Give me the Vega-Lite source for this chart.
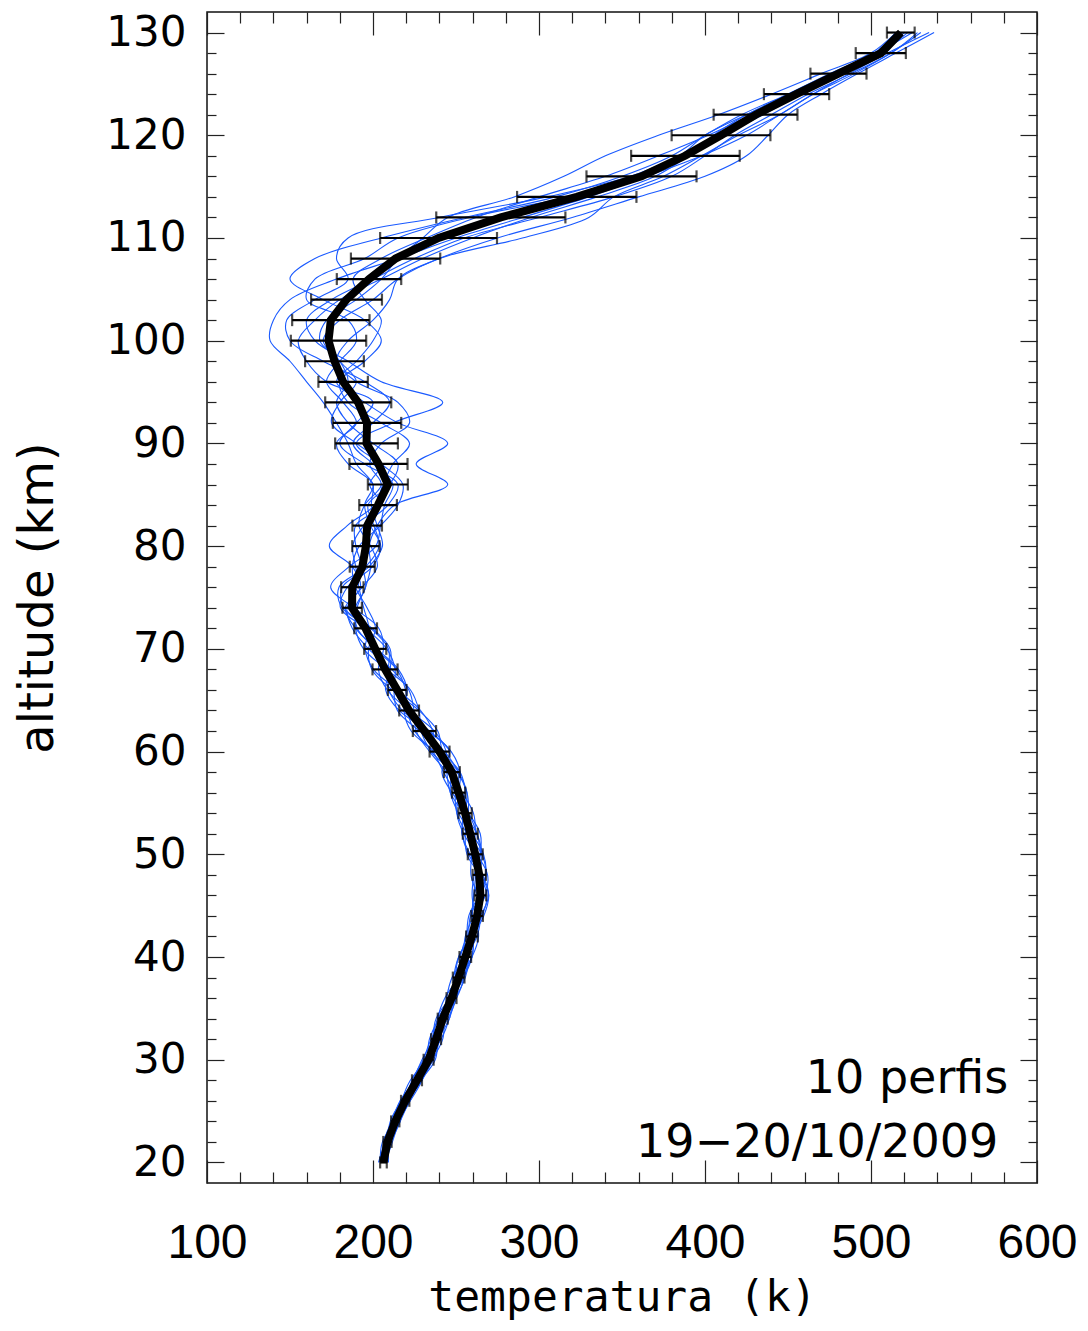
{
"$schema": "https://vega.github.io/schema/vega-lite/v6.json",
"width": 830, "height": 1171,
"autosize": {"type": "none"},
"padding": {"left": 207, "top": 12, "right": 51, "bottom": 148},
"background": "white",
"config": {
  "view": {"stroke": "#111", "strokeWidth": 1.5},
  "axis": {"domain": false, "grid": false, "tickColor": "#222", "tickWidth": 1.2, "labelColor": "#000", "titleColor": "#000", "titleFontWeight": "normal"}
},
"datasets": {
"mean": [
{"a":20,"m":206.3,"lo":204.3,"hi":208.3},{"a":22,"m":208.7,"lo":206.2,"hi":211.2},{"a":24,"m":213.4,"lo":210.9,"hi":215.9},{"a":26,"m":219.4,"lo":216.9,"hi":221.9},{"a":28,"m":226.5,"lo":223.5,"hi":229.5},{"a":30,"m":233.5,"lo":230.5,"hi":236.5},{"a":32,"m":238,"lo":235,"hi":241},{"a":34,"m":242,"lo":239,"hi":245},{"a":36,"m":247.3,"lo":244.3,"hi":250.3},{"a":38,"m":251.6,"lo":248.1,"hi":255.1},{"a":40,"m":255.6,"lo":252.1,"hi":259.1},{"a":42,"m":259.6,"lo":256.1,"hi":263.1},{"a":44,"m":262.7,"lo":259.2,"hi":266.2},{"a":46,"m":264.7,"lo":261.2,"hi":268.2},{"a":48,"m":264,"lo":260,"hi":268},{"a":50,"m":261.6,"lo":257.1,"hi":266.1},{"a":52,"m":258.6,"lo":254.1,"hi":263.1},{"a":54,"m":255.5,"lo":251.5,"hi":259.5},{"a":56,"m":251.6,"lo":247.6,"hi":255.6},{"a":58,"m":247.5,"lo":242.7,"hi":252.3},{"a":60,"m":240.1,"lo":234.1,"hi":246.1},{"a":62,"m":231,"lo":224,"hi":238},{"a":64,"m":221.7,"lo":215.8,"hi":227.7},{"a":66,"m":214.6,"lo":209,"hi":220.2},{"a":68,"m":207.3,"lo":199.7,"hi":214.8},{"a":70,"m":201.3,"lo":194.7,"hi":208},{"a":72,"m":195.5,"lo":188.7,"hi":202.4},{"a":74,"m":187.4,"lo":181.6,"hi":193.3},{"a":76,"m":187.5,"lo":180.8,"hi":194.3},{"a":78,"m":193.6,"lo":186,"hi":201.1},{"a":80,"m":195.7,"lo":187.5,"hi":203.9},{"a":82,"m":196.5,"lo":187.6,"hi":205.4},{"a":84,"m":203,"lo":191.7,"hi":214.4},{"a":86,"m":209,"lo":196.9,"hi":221},{"a":88,"m":203.3,"lo":185.8,"hi":220.8},{"a":90,"m":196.1,"lo":177.2,"hi":215},{"a":92,"m":196.4,"lo":175.8,"hi":217},{"a":94,"m":191,"lo":171.2,"hi":211},{"a":96,"m":182,"lo":167.1,"hi":196.9},{"a":98,"m":176.8,"lo":159.1,"hi":194.5},{"a":100,"m":173.2,"lo":150.5,"hi":195.9},{"a":102,"m":174.6,"lo":151.3,"hi":197.9},{"a":104,"m":184,"lo":162.7,"hi":205.4},{"a":106,"m":197.6,"lo":178.2,"hi":217},{"a":108,"m":213.6,"lo":186.7,"hi":240.5},{"a":110,"m":239.5,"lo":204.3,"hi":274.7},{"a":112,"m":277,"lo":238.1,"hi":315.9},{"a":114,"m":322.7,"lo":286.8,"hi":358.7},{"a":116,"m":361.8,"lo":328.6,"hi":394.9},{"a":118,"m":388,"lo":355.5,"hi":420.9},{"a":120,"m":409.7,"lo":379.9,"hi":439.4},{"a":122,"m":430.5,"lo":405.2,"hi":455.7},{"a":124,"m":455,"lo":435.5,"hi":474.8},{"a":126,"m":480.4,"lo":463.5,"hi":497.3},{"a":128,"m":506,"lo":490.8,"hi":521},{"a":130,"m":518,"lo":509.6,"hi":526.3}
],
"profiles": [
{"p":1,"a":20,"t":207.3},{"p":1,"a":22,"t":211.7},{"p":1,"a":24,"t":215.4},{"p":1,"a":26,"t":217.4},{"p":1,"a":28,"t":222.5},{"p":1,"a":30,"t":232.5},{"p":1,"a":32,"t":241},{"p":1,"a":34,"t":246},{"p":1,"a":36,"t":248.3},{"p":1,"a":38,"t":248.6},{"p":1,"a":40,"t":251.6},{"p":1,"a":42,"t":259.6},{"p":1,"a":44,"t":266.7},{"p":1,"a":46,"t":269.7},{"p":1,"a":48,"t":265},{"p":1,"a":50,"t":257.6},{"p":1,"a":52,"t":253.6},{"p":1,"a":54,"t":254.5},{"p":1,"a":56,"t":255.6},{"p":1,"a":58,"t":252.5},{"p":1,"a":60,"t":242.1},{"p":1,"a":62,"t":239},{"p":1,"a":64,"t":227.7},{"p":1,"a":66,"t":211.6},{"p":1,"a":68,"t":199.3},{"p":1,"a":70,"t":197.3},{"p":1,"a":72,"t":201.5},{"p":1,"a":74,"t":196.4},{"p":1,"a":76,"t":189.5},{"p":1,"a":78,"t":187.6},{"p":1,"a":80,"t":191.7},{"p":1,"a":82,"t":204.5},{"p":1,"a":84,"t":215},{"p":1,"a":86,"t":218},{"p":1,"a":88,"t":205},{"p":1,"a":90,"t":190},{"p":1,"a":92,"t":212},{"p":1,"a":94,"t":242},{"p":1,"a":96,"t":205},{"p":1,"a":98,"t":185},{"p":1,"a":100,"t":165},{"p":1,"a":102,"t":160},{"p":1,"a":104,"t":175},{"p":1,"a":106,"t":200},{"p":1,"a":108,"t":225},{"p":1,"a":110,"t":255},{"p":1,"a":112,"t":300},{"p":1,"a":114,"t":345},{"p":1,"a":116,"t":380},{"p":1,"a":118,"t":400},{"p":1,"a":120,"t":418},{"p":1,"a":122,"t":440},{"p":1,"a":124,"t":462},{"p":1,"a":126,"t":488},{"p":1,"a":128,"t":512},{"p":1,"a":130,"t":528},
{"p":2,"a":20,"t":204.3},{"p":2,"a":22,"t":205.7},{"p":2,"a":24,"t":213.4},{"p":2,"a":26,"t":222.4},{"p":2,"a":28,"t":229.5},{"p":2,"a":30,"t":232.5},{"p":2,"a":32,"t":234},{"p":2,"a":34,"t":240},{"p":2,"a":36,"t":249.3},{"p":2,"a":38,"t":255.6},{"p":2,"a":40,"t":257.6},{"p":2,"a":42,"t":256.6},{"p":2,"a":44,"t":257.7},{"p":2,"a":46,"t":263.7},{"p":2,"a":48,"t":268},{"p":2,"a":50,"t":266.6},{"p":2,"a":52,"t":259.6},{"p":2,"a":54,"t":251.5},{"p":2,"a":56,"t":246.6},{"p":2,"a":58,"t":246.5},{"p":2,"a":60,"t":235.1},{"p":2,"a":62,"t":229},{"p":2,"a":64,"t":227.7},{"p":2,"a":66,"t":222.6},{"p":2,"a":68,"t":208.3},{"p":2,"a":70,"t":194.3},{"p":2,"a":72,"t":189.5},{"p":2,"a":74,"t":190.4},{"p":2,"a":76,"t":195.5},{"p":2,"a":78,"t":198.6},{"p":2,"a":80,"t":197.7},{"p":2,"a":82,"t":202.5},{"p":2,"a":84,"t":213},{"p":2,"a":86,"t":245},{"p":2,"a":88,"t":226},{"p":2,"a":90,"t":245},{"p":2,"a":92,"t":215},{"p":2,"a":94,"t":195},{"p":2,"a":96,"t":178},{"p":2,"a":98,"t":190},{"p":2,"a":100,"t":200},{"p":2,"a":102,"t":205},{"p":2,"a":104,"t":195},{"p":2,"a":106,"t":188},{"p":2,"a":108,"t":205},{"p":2,"a":110,"t":232},{"p":2,"a":112,"t":262},{"p":2,"a":114,"t":300},{"p":2,"a":116,"t":340},{"p":2,"a":118,"t":372},{"p":2,"a":120,"t":402},{"p":2,"a":122,"t":428},{"p":2,"a":124,"t":455},{"p":2,"a":126,"t":482},{"p":2,"a":128,"t":505},{"p":2,"a":130,"t":520},
{"p":3,"a":20,"t":208.3},{"p":3,"a":22,"t":208.7},{"p":3,"a":24,"t":210.4},{"p":3,"a":26,"t":217.4},{"p":3,"a":28,"t":228.5},{"p":3,"a":30,"t":237.5},{"p":3,"a":32,"t":239},{"p":3,"a":34,"t":239},{"p":3,"a":36,"t":243.3},{"p":3,"a":38,"t":251.6},{"p":3,"a":40,"t":259.6},{"p":3,"a":42,"t":263.6},{"p":3,"a":44,"t":261.7},{"p":3,"a":46,"t":259.7},{"p":3,"a":48,"t":261},{"p":3,"a":50,"t":264.6},{"p":3,"a":52,"t":264.6},{"p":3,"a":54,"t":257.5},{"p":3,"a":56,"t":247.6},{"p":3,"a":58,"t":241.5},{"p":3,"a":60,"t":246.1},{"p":3,"a":62,"t":233},{"p":3,"a":64,"t":215.7},{"p":3,"a":66,"t":207.6},{"p":3,"a":68,"t":210.3},{"p":3,"a":70,"t":210.3},{"p":3,"a":72,"t":199.5},{"p":3,"a":74,"t":182.4},{"p":3,"a":76,"t":181.5},{"p":3,"a":78,"t":197.6},{"p":3,"a":80,"t":205.7},{"p":3,"a":82,"t":202.5},{"p":3,"a":84,"t":199},{"p":3,"a":86,"t":200},{"p":3,"a":88,"t":190},{"p":3,"a":90,"t":185},{"p":3,"a":92,"t":178},{"p":3,"a":94,"t":170},{"p":3,"a":96,"t":160},{"p":3,"a":98,"t":150},{"p":3,"a":100,"t":138},{"p":3,"a":102,"t":140},{"p":3,"a":104,"t":150},{"p":3,"a":106,"t":178},{"p":3,"a":108,"t":215},{"p":3,"a":110,"t":250},{"p":3,"a":112,"t":290},{"p":3,"a":114,"t":330},{"p":3,"a":116,"t":365},{"p":3,"a":118,"t":398},{"p":3,"a":120,"t":425},{"p":3,"a":122,"t":445},{"p":3,"a":124,"t":465},{"p":3,"a":126,"t":487},{"p":3,"a":128,"t":510},{"p":3,"a":130,"t":535},
{"p":4,"a":20,"t":205.3},{"p":4,"a":22,"t":210.7},{"p":4,"a":24,"t":216.4},{"p":4,"a":26,"t":219.4},{"p":4,"a":28,"t":223.5},{"p":4,"a":30,"t":230.5},{"p":4,"a":32,"t":239},{"p":4,"a":34,"t":246},{"p":4,"a":36,"t":249.3},{"p":4,"a":38,"t":249.6},{"p":4,"a":40,"t":251.6},{"p":4,"a":42,"t":258.6},{"p":4,"a":44,"t":265.7},{"p":4,"a":46,"t":268.7},{"p":4,"a":48,"t":264},{"p":4,"a":50,"t":256.6},{"p":4,"a":52,"t":255.6},{"p":4,"a":54,"t":257.5},{"p":4,"a":56,"t":256.6},{"p":4,"a":58,"t":250.5},{"p":4,"a":60,"t":237.1},{"p":4,"a":62,"t":223},{"p":4,"a":64,"t":218.7},{"p":4,"a":66,"t":220.6},{"p":4,"a":68,"t":215.3},{"p":4,"a":70,"t":202.3},{"p":4,"a":72,"t":189.5},{"p":4,"a":74,"t":183.4},{"p":4,"a":76,"t":192.5},{"p":4,"a":78,"t":187.6},{"p":4,"a":80,"t":173.7},{"p":4,"a":82,"t":184.5},{"p":4,"a":84,"t":201},{"p":4,"a":86,"t":206},{"p":4,"a":88,"t":212},{"p":4,"a":90,"t":222},{"p":4,"a":92,"t":205},{"p":4,"a":94,"t":185},{"p":4,"a":96,"t":180},{"p":4,"a":98,"t":195},{"p":4,"a":100,"t":205},{"p":4,"a":102,"t":195},{"p":4,"a":104,"t":170},{"p":4,"a":106,"t":150},{"p":4,"a":108,"t":165},{"p":4,"a":110,"t":205},{"p":4,"a":112,"t":255},{"p":4,"a":114,"t":310},{"p":4,"a":116,"t":350},{"p":4,"a":118,"t":380},{"p":4,"a":120,"t":400},{"p":4,"a":122,"t":422},{"p":4,"a":124,"t":450},{"p":4,"a":126,"t":478},{"p":4,"a":128,"t":502},{"p":4,"a":130,"t":515},
{"p":5,"a":20,"t":206.3},{"p":5,"a":22,"t":206.7},{"p":5,"a":24,"t":211.4},{"p":5,"a":26,"t":220.4},{"p":5,"a":28,"t":229.5},{"p":5,"a":30,"t":235.5},{"p":5,"a":32,"t":236},{"p":5,"a":34,"t":238},{"p":5,"a":36,"t":246.3},{"p":5,"a":38,"t":254.6},{"p":5,"a":40,"t":259.6},{"p":5,"a":42,"t":260.6},{"p":5,"a":44,"t":259.7},{"p":5,"a":46,"t":260.7},{"p":5,"a":48,"t":264},{"p":5,"a":50,"t":265.6},{"p":5,"a":52,"t":262.6},{"p":5,"a":54,"t":254.5},{"p":5,"a":56,"t":246.6},{"p":5,"a":58,"t":244.5},{"p":5,"a":60,"t":244.1},{"p":5,"a":62,"t":237},{"p":5,"a":64,"t":221.7},{"p":5,"a":66,"t":208.6},{"p":5,"a":68,"t":203.3},{"p":5,"a":70,"t":206.3},{"p":5,"a":72,"t":203.5},{"p":5,"a":74,"t":188.4},{"p":5,"a":76,"t":174.5},{"p":5,"a":78,"t":185.6},{"p":5,"a":80,"t":201.7},{"p":5,"a":82,"t":204.5},{"p":5,"a":84,"t":207},{"p":5,"a":86,"t":212},{"p":5,"a":88,"t":200},{"p":5,"a":90,"t":188},{"p":5,"a":92,"t":200},{"p":5,"a":94,"t":210},{"p":5,"a":96,"t":195},{"p":5,"a":98,"t":170},{"p":5,"a":100,"t":150},{"p":5,"a":102,"t":148},{"p":5,"a":104,"t":165},{"p":5,"a":106,"t":185},{"p":5,"a":108,"t":178},{"p":5,"a":110,"t":185},{"p":5,"a":112,"t":240},{"p":5,"a":114,"t":305},{"p":5,"a":116,"t":355},{"p":5,"a":118,"t":385},{"p":5,"a":120,"t":410},{"p":5,"a":122,"t":435},{"p":5,"a":124,"t":458},{"p":5,"a":126,"t":482},{"p":5,"a":128,"t":506},{"p":5,"a":130,"t":522},
{"p":6,"a":20,"t":209.3},{"p":6,"a":22,"t":209.7},{"p":6,"a":24,"t":212.4},{"p":6,"a":26,"t":216.4},{"p":6,"a":28,"t":225.5},{"p":6,"a":30,"t":235.5},{"p":6,"a":32,"t":242},{"p":6,"a":34,"t":243},{"p":6,"a":36,"t":244.3},{"p":6,"a":38,"t":247.6},{"p":6,"a":40,"t":255.6},{"p":6,"a":42,"t":262.6},{"p":6,"a":44,"t":264.7},{"p":6,"a":46,"t":262.7},{"p":6,"a":48,"t":259},{"p":6,"a":50,"t":259.6},{"p":6,"a":52,"t":261.6},{"p":6,"a":54,"t":260.5},{"p":6,"a":56,"t":253.6},{"p":6,"a":58,"t":244.5},{"p":6,"a":60,"t":234.1},{"p":6,"a":62,"t":226},{"p":6,"a":64,"t":224.7},{"p":6,"a":66,"t":221.6},{"p":6,"a":68,"t":211.3},{"p":6,"a":70,"t":197.3},{"p":6,"a":72,"t":187.5},{"p":6,"a":74,"t":184.4},{"p":6,"a":76,"t":193.5},{"p":6,"a":78,"t":202.6},{"p":6,"a":80,"t":198.7},{"p":6,"a":82,"t":191.5},{"p":6,"a":84,"t":195},{"p":6,"a":86,"t":205},{"p":6,"a":88,"t":198},{"p":6,"a":90,"t":205},{"p":6,"a":92,"t":222},{"p":6,"a":94,"t":215},{"p":6,"a":96,"t":190},{"p":6,"a":98,"t":178},{"p":6,"a":100,"t":185},{"p":6,"a":102,"t":200},{"p":6,"a":104,"t":210},{"p":6,"a":106,"t":215},{"p":6,"a":108,"t":240},{"p":6,"a":110,"t":275},{"p":6,"a":112,"t":320},{"p":6,"a":114,"t":360},{"p":6,"a":116,"t":400},{"p":6,"a":118,"t":425},{"p":6,"a":120,"t":438},{"p":6,"a":122,"t":450},{"p":6,"a":124,"t":470},{"p":6,"a":126,"t":492},{"p":6,"a":128,"t":515},{"p":6,"a":130,"t":538},
{"p":7,"a":20,"t":203.3},{"p":7,"a":22,"t":207.7},{"p":7,"a":24,"t":215.4},{"p":7,"a":26,"t":222.4},{"p":7,"a":28,"t":227.5},{"p":7,"a":30,"t":230.5},{"p":7,"a":32,"t":235},{"p":7,"a":34,"t":242},{"p":7,"a":36,"t":250.3},{"p":7,"a":38,"t":254.6},{"p":7,"a":40,"t":254.6},{"p":7,"a":42,"t":255.6},{"p":7,"a":44,"t":260.7},{"p":7,"a":46,"t":267.7},{"p":7,"a":48,"t":269},{"p":7,"a":50,"t":262.6},{"p":7,"a":52,"t":254.6},{"p":7,"a":54,"t":250.5},{"p":7,"a":56,"t":251.6},{"p":7,"a":58,"t":252.5},{"p":7,"a":60,"t":247.1},{"p":7,"a":62,"t":234},{"p":7,"a":64,"t":217.7},{"p":7,"a":66,"t":209.6},{"p":7,"a":68,"t":209.3},{"p":7,"a":70,"t":209.3},{"p":7,"a":72,"t":198.5},{"p":7,"a":74,"t":181.4},{"p":7,"a":76,"t":179.5},{"p":7,"a":78,"t":195.6},{"p":7,"a":80,"t":203.7},{"p":7,"a":82,"t":200.5},{"p":7,"a":84,"t":197},{"p":7,"a":86,"t":210},{"p":7,"a":88,"t":215},{"p":7,"a":90,"t":200},{"p":7,"a":92,"t":185},{"p":7,"a":94,"t":178},{"p":7,"a":96,"t":185},{"p":7,"a":98,"t":180},{"p":7,"a":100,"t":168},{"p":7,"a":102,"t":172},{"p":7,"a":104,"t":190},{"p":7,"a":106,"t":205},{"p":7,"a":108,"t":215},{"p":7,"a":110,"t":230},{"p":7,"a":112,"t":245},{"p":7,"a":114,"t":285},{"p":7,"a":116,"t":315},{"p":7,"a":118,"t":340},{"p":7,"a":120,"t":372},{"p":7,"a":122,"t":408},{"p":7,"a":124,"t":440},{"p":7,"a":126,"t":470},{"p":7,"a":128,"t":500},{"p":7,"a":130,"t":515},
{"p":8,"a":20,"t":207.3},{"p":8,"a":22,"t":207.7},{"p":8,"a":24,"t":211.4},{"p":8,"a":26,"t":220.4},{"p":8,"a":28,"t":229.5},{"p":8,"a":30,"t":234.5},{"p":8,"a":32,"t":236},{"p":8,"a":34,"t":239},{"p":8,"a":36,"t":247.3},{"p":8,"a":38,"t":254.6},{"p":8,"a":40,"t":257.6},{"p":8,"a":42,"t":257.6},{"p":8,"a":44,"t":258.7},{"p":8,"a":46,"t":264.7},{"p":8,"a":48,"t":268},{"p":8,"a":50,"t":265.6},{"p":8,"a":52,"t":256.6},{"p":8,"a":54,"t":250.5},{"p":8,"a":56,"t":249.6},{"p":8,"a":58,"t":251.5},{"p":8,"a":60,"t":238.1},{"p":8,"a":62,"t":236},{"p":8,"a":64,"t":228.7},{"p":8,"a":66,"t":214.6},{"p":8,"a":68,"t":200.3},{"p":8,"a":70,"t":195.3},{"p":8,"a":72,"t":197.5},{"p":8,"a":74,"t":194.4},{"p":8,"a":76,"t":191.5},{"p":8,"a":78,"t":189.6},{"p":8,"a":80,"t":187.7},{"p":8,"a":82,"t":194.5},{"p":8,"a":84,"t":209},{"p":8,"a":86,"t":215},{"p":8,"a":88,"t":195},{"p":8,"a":90,"t":180},{"p":8,"a":92,"t":190},{"p":8,"a":94,"t":200},{"p":8,"a":96,"t":172},{"p":8,"a":98,"t":160},{"p":8,"a":100,"t":155},{"p":8,"a":102,"t":165},{"p":8,"a":104,"t":180},{"p":8,"a":106,"t":205},{"p":8,"a":108,"t":230},{"p":8,"a":110,"t":260},{"p":8,"a":112,"t":295},{"p":8,"a":114,"t":335},{"p":8,"a":116,"t":370},{"p":8,"a":118,"t":390},{"p":8,"a":120,"t":405},{"p":8,"a":122,"t":425},{"p":8,"a":124,"t":450},{"p":8,"a":126,"t":475},{"p":8,"a":128,"t":503},{"p":8,"a":130,"t":525},
{"p":9,"a":20,"t":205.3},{"p":9,"a":22,"t":209.7},{"p":9,"a":24,"t":216.4},{"p":9,"a":26,"t":221.4},{"p":9,"a":28,"t":224.5},{"p":9,"a":30,"t":229.5},{"p":9,"a":32,"t":237},{"p":9,"a":34,"t":245},{"p":9,"a":36,"t":250.3},{"p":9,"a":38,"t":251.6},{"p":9,"a":40,"t":252.6},{"p":9,"a":42,"t":256.6},{"p":9,"a":44,"t":264.7},{"p":9,"a":46,"t":269.7},{"p":9,"a":48,"t":266},{"p":9,"a":50,"t":258.6},{"p":9,"a":52,"t":253.6},{"p":9,"a":54,"t":255.5},{"p":9,"a":56,"t":256.6},{"p":9,"a":58,"t":251.5},{"p":9,"a":60,"t":243.1},{"p":9,"a":62,"t":228},{"p":9,"a":64,"t":214.7},{"p":9,"a":66,"t":212.6},{"p":9,"a":68,"t":213.3},{"p":9,"a":70,"t":208.3},{"p":9,"a":72,"t":195.5},{"p":9,"a":74,"t":180.4},{"p":9,"a":76,"t":184.5},{"p":9,"a":78,"t":199.6},{"p":9,"a":80,"t":204.7},{"p":9,"a":82,"t":198.5},{"p":9,"a":84,"t":195},{"p":9,"a":86,"t":200},{"p":9,"a":88,"t":185},{"p":9,"a":90,"t":178},{"p":9,"a":92,"t":190},{"p":9,"a":94,"t":182},{"p":9,"a":96,"t":172},{"p":9,"a":98,"t":180},{"p":9,"a":100,"t":190},{"p":9,"a":102,"t":185},{"p":9,"a":104,"t":160},{"p":9,"a":106,"t":165},{"p":9,"a":108,"t":195},{"p":9,"a":110,"t":215},{"p":9,"a":112,"t":258},{"p":9,"a":114,"t":318},{"p":9,"a":116,"t":362},{"p":9,"a":118,"t":385},{"p":9,"a":120,"t":400},{"p":9,"a":122,"t":425},{"p":9,"a":124,"t":452},{"p":9,"a":126,"t":478},{"p":9,"a":128,"t":505},{"p":9,"a":130,"t":518},
{"p":10,"a":20,"t":206.3},{"p":10,"a":22,"t":208.7},{"p":10,"a":24,"t":211.4},{"p":10,"a":26,"t":216.4},{"p":10,"a":28,"t":226.5},{"p":10,"a":30,"t":236.5},{"p":10,"a":32,"t":240},{"p":10,"a":34,"t":241},{"p":10,"a":36,"t":245.3},{"p":10,"a":38,"t":253.6},{"p":10,"a":40,"t":259.6},{"p":10,"a":42,"t":260.6},{"p":10,"a":44,"t":259.7},{"p":10,"a":46,"t":260.7},{"p":10,"a":48,"t":262},{"p":10,"a":50,"t":264.6},{"p":10,"a":52,"t":262.6},{"p":10,"a":54,"t":257.5},{"p":10,"a":56,"t":249.6},{"p":10,"a":58,"t":242.5},{"p":10,"a":60,"t":236.1},{"p":10,"a":62,"t":225},{"p":10,"a":64,"t":220.7},{"p":10,"a":66,"t":219.6},{"p":10,"a":68,"t":214.3},{"p":10,"a":70,"t":201.3},{"p":10,"a":72,"t":190.5},{"p":10,"a":74,"t":189.4},{"p":10,"a":76,"t":195.5},{"p":10,"a":78,"t":193.6},{"p":10,"a":80,"t":189.7},{"p":10,"a":82,"t":189.5},{"p":10,"a":84,"t":205},{"p":10,"a":86,"t":198},{"p":10,"a":88,"t":205},{"p":10,"a":90,"t":190},{"p":10,"a":92,"t":175},{"p":10,"a":94,"t":180},{"p":10,"a":96,"t":190},{"p":10,"a":98,"t":180},{"p":10,"a":100,"t":170},{"p":10,"a":102,"t":180},{"p":10,"a":104,"t":200},{"p":10,"a":106,"t":215},{"p":10,"a":108,"t":240},{"p":10,"a":110,"t":290},{"p":10,"a":112,"t":330},{"p":10,"a":114,"t":345},{"p":10,"a":116,"t":375},{"p":10,"a":118,"t":398},{"p":10,"a":120,"t":420},{"p":10,"a":122,"t":445},{"p":10,"a":124,"t":465},{"p":10,"a":126,"t":490},{"p":10,"a":128,"t":512},{"p":10,"a":130,"t":530}
]
},
"layer": [
{
  "data": {"name": "profiles"},
  "mark": {"type": "line", "interpolate": "catmull-rom", "stroke": "#1a5aff", "strokeWidth": 1.1},
  "encoding": {
    "x": {"field": "t", "type": "quantitative", "scale": {"domain": [100, 600], "nice": false, "zero": false},
      "axis": {"orient": "bottom", "values": [100,120,140,160,180,200,220,240,260,280,300,320,340,360,380,400,420,440,460,480,500,520,540,560,580,600],
        "tickSize": {"condition": {"test": "datum.value % 100 === 0", "value": -23}, "value": -11},
        "labelExpr": "datum.value % 100 === 0 ? datum.label : ''", "labelOverlap": false, "labelFlush": false,
        "labelFont": "Liberation Sans", "labelFontSize": 48, "labelPadding": 59,
        "title": "temperatura (k)", "titleFont": "DejaVu Sans Mono", "titleFontSize": 43, "titleY": 127, "titleBaseline": "alphabetic"}},
    "y": {"field": "a", "type": "quantitative", "scale": {"domain": [18, 132], "nice": false, "zero": false},
      "axis": {"orient": "left", "values": [20,22,24,26,28,30,32,34,36,38,40,42,44,46,48,50,52,54,56,58,60,62,64,66,68,70,72,74,76,78,80,82,84,86,88,90,92,94,96,98,100,102,104,106,108,110,112,114,116,118,120,122,124,126,128,130],
        "tickSize": {"condition": {"test": "datum.value % 10 === 0", "value": -17}, "value": -9},
        "labelExpr": "datum.value % 10 === 0 ? datum.label : ''", "labelOverlap": false, "labelFlush": false,
        "labelFont": "DejaVu Sans", "labelFontSize": 42, "labelPadding": 38, "labelBaseline": "middle",
        "title": "altitude (km)", "titleFont": "DejaVu Sans", "titleFontSize": 48, "titleX": -155, "titleY": 585.5, "titleAngle": 270, "titleBaseline": "alphabetic", "titleAlign": "center"}},
    "detail": {"field": "p", "type": "nominal"},
    "order": {"field": "a", "type": "quantitative"}
  }
},
{
  "data": {"name": "mean"},
  "mark": {"type": "rule", "color": "#000", "strokeWidth": 2.2},
  "encoding": {
    "x": {"field": "lo", "type": "quantitative", "scale": {"domain": [100, 600], "nice": false, "zero": false},
      "axis": {"orient": "top", "values": [100,120,140,160,180,200,220,240,260,280,300,320,340,360,380,400,420,440,460,480,500,520,540,560,580,600],
        "tickSize": {"condition": {"test": "datum.value % 100 === 0", "value": -23}, "value": -11},
        "labels": false, "title": null}},
    "x2": {"field": "hi"},
    "y": {"field": "a", "type": "quantitative", "scale": {"domain": [18, 132], "nice": false, "zero": false},
      "axis": {"orient": "right", "values": [20,22,24,26,28,30,32,34,36,38,40,42,44,46,48,50,52,54,56,58,60,62,64,66,68,70,72,74,76,78,80,82,84,86,88,90,92,94,96,98,100,102,104,106,108,110,112,114,116,118,120,122,124,126,128,130],
        "tickSize": {"condition": {"test": "datum.value % 10 === 0", "value": -17}, "value": -9},
        "labels": false, "title": null}}
  }
},
{
  "data": {"name": "mean"},
  "mark": {"type": "tick", "orient": "vertical", "size": 12, "thickness": 2.2, "color": "#000"},
  "encoding": {
    "x": {"field": "lo", "type": "quantitative", "scale": {"domain": [100, 600], "nice": false, "zero": false}, "axis": null},
    "y": {"field": "a", "type": "quantitative", "scale": {"domain": [18, 132], "nice": false, "zero": false}, "axis": null}
  }
},
{
  "data": {"name": "mean"},
  "mark": {"type": "tick", "orient": "vertical", "size": 12, "thickness": 2.2, "color": "#000"},
  "encoding": {
    "x": {"field": "hi", "type": "quantitative", "scale": {"domain": [100, 600], "nice": false, "zero": false}, "axis": null},
    "y": {"field": "a", "type": "quantitative", "scale": {"domain": [18, 132], "nice": false, "zero": false}, "axis": null}
  }
},
{
  "data": {"name": "mean"},
  "mark": {"type": "line", "color": "#000", "strokeWidth": 8},
  "encoding": {
    "x": {"field": "m", "type": "quantitative", "scale": {"domain": [100, 600], "nice": false, "zero": false}, "axis": null},
    "y": {"field": "a", "type": "quantitative", "scale": {"domain": [18, 132], "nice": false, "zero": false}, "axis": null},
    "order": {"field": "a", "type": "quantitative"}
  }
},
{
  "data": {"values": [{"label": "10 perfis"}]},
  "mark": {"type": "text", "align": "right", "baseline": "alphabetic", "font": "DejaVu Sans", "fontSize": 46, "color": "#000"},
  "encoding": {
    "x": {"datum": 582.7, "type": "quantitative", "scale": {"domain": [100, 600], "nice": false, "zero": false}, "axis": null},
    "y": {"datum": 26.75, "type": "quantitative", "scale": {"domain": [18, 132], "nice": false, "zero": false}, "axis": null},
    "text": {"field": "label"}
  }
},
{
  "data": {"values": [{"label": "19−20/10/2009"}]},
  "mark": {"type": "text", "align": "right", "baseline": "alphabetic", "font": "DejaVu Sans", "fontSize": 46, "color": "#000"},
  "encoding": {
    "x": {"datum": 576.7, "type": "quantitative", "scale": {"domain": [100, 600], "nice": false, "zero": false}, "axis": null},
    "y": {"datum": 20.55, "type": "quantitative", "scale": {"domain": [18, 132], "nice": false, "zero": false}, "axis": null},
    "text": {"field": "label"}
  }
}
],
"resolve": {"axis": {"x": "independent", "y": "independent"}}
}
